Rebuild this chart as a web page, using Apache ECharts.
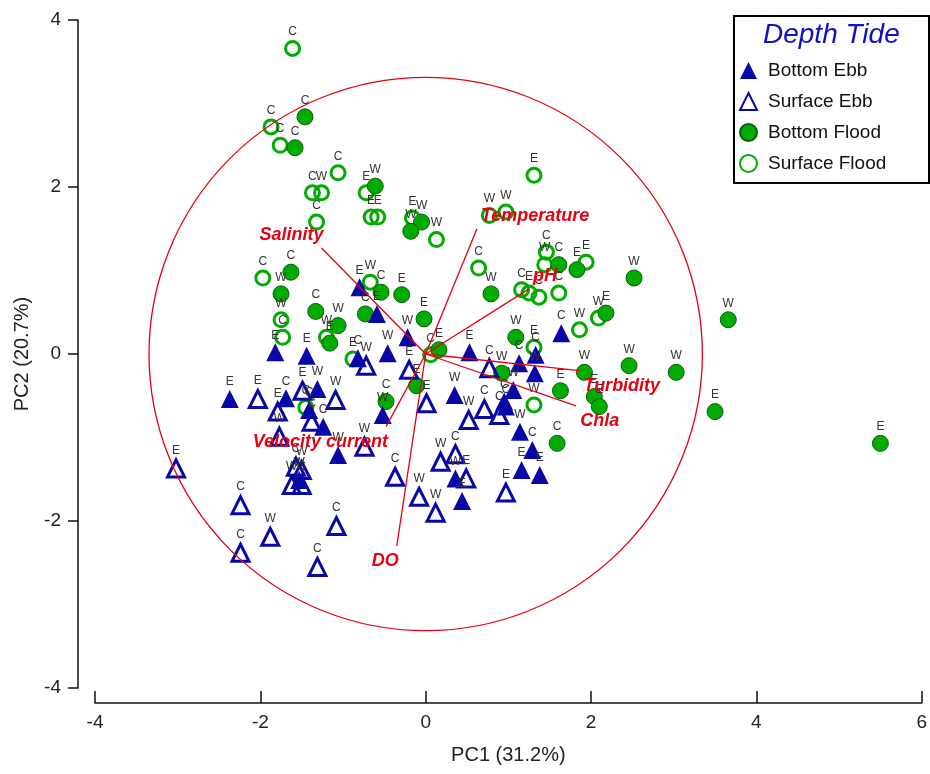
<!DOCTYPE html>
<html>
<head>
<meta charset="UTF-8">
<title>PCA biplot</title>
<script src="https://cdn.jsdelivr.net/npm/echarts@6/dist/echarts.min.js"></script>
</head>
<body style="margin:0;background:#fff;">
<div id="main" style="width:930px;height:774px;"></div>
<script type="text/javascript">
// points: [PC1, PC2, site label]
var bottomEbb = [
  [-0.80, 0.80, 'E'], [-0.59, 0.48, 'E'], [-0.22, 0.20, 'W'], [-0.46, 0.01, 'W'],
  [-1.82, 0.02, 'E'], [-1.44, -0.02, 'E'], [-0.82, -0.05, 'C'], [0.53, 0.02, 'E'],
  [1.64, 0.25, 'C'], [1.33, -0.01, 'C'], [1.13, -0.11, 'C'], [1.32, -0.23, 'W'],
  [0.35, -0.49, 'W'], [1.06, -0.43, 'W'], [0.95, -0.57, 'C'], [0.97, -0.63, 'C'],
  [1.14, -0.93, 'W'], [1.29, -1.15, 'C'], [1.16, -1.39, 'E'], [1.38, -1.45, 'E'],
  [0.36, -1.49, 'W'], [0.44, -1.76, 'E'], [-2.37, -0.54, 'E'], [-1.69, -0.53, 'C'],
  [-1.31, -0.42, 'W'], [-1.41, -0.67, 'C'], [-1.24, -0.87, 'C'], [-1.06, -1.21, 'W'],
  [-0.52, -0.73, 'W'], [-1.53, -1.51, 'W']
];
var surfaceEbb = [
  [-2.03, -0.54, 'E'], [-1.79, -0.69, 'E'], [-1.49, -0.44, 'E'], [-1.09, -0.55, 'W'],
  [-1.38, -0.81, 'C'], [-1.77, -0.99, 'W'], [-0.72, -0.14, 'W'], [-0.20, -0.19, 'E'],
  [0.01, -0.59, 'E'], [0.77, -0.17, 'C'], [0.71, -0.66, 'C'], [0.52, -0.79, 'W'],
  [0.89, -0.73, 'C'], [0.36, -1.20, 'C'], [0.18, -1.29, 'W'], [0.49, -1.49, 'E'],
  [0.97, -1.66, 'E'], [-0.74, -1.11, 'W'], [-0.37, -1.47, 'C'], [-0.08, -1.71, 'W'],
  [0.12, -1.90, 'W'], [-3.02, -1.37, 'E'], [-2.24, -1.81, 'C'], [-2.24, -2.38, 'C'],
  [-1.88, -2.19, 'W'], [-1.08, -2.06, 'C'], [-1.31, -2.55, 'C'], [-1.57, -1.35, 'C'],
  [-1.50, -1.39, 'W'], [-1.62, -1.57, 'W'], [-1.50, -1.57, 'C']
];
var bottomFlood = [
  [-1.46, 2.84, 'C'], [-1.58, 2.47, 'C'], [-0.61, 2.01, 'W'], [-0.05, 1.58, 'W'],
  [-0.18, 1.47, 'W'], [1.61, 1.07, 'C'], [1.83, 1.01, 'E'], [0.79, 0.72, 'W'],
  [2.52, 0.91, 'W'], [2.18, 0.49, 'E'], [1.09, 0.20, 'W'], [3.66, 0.41, 'W'],
  [0.92, -0.23, 'W'], [1.92, -0.22, 'W'], [1.63, -0.44, 'E'], [2.04, -0.51, 'E'],
  [2.10, -0.63, 'E'], [2.46, -0.14, 'W'], [3.03, -0.22, 'W'], [3.50, -0.69, 'E'],
  [5.50, -1.07, 'E'], [1.59, -1.07, 'C'], [-1.63, 0.98, 'C'], [-1.75, 0.72, 'W'],
  [-1.33, 0.51, 'C'], [-1.06, 0.34, 'W'], [-1.16, 0.13, 'E'], [-0.54, 0.74, 'C'],
  [-0.29, 0.71, 'E'], [-0.73, 0.48, 'C'], [-0.02, 0.42, 'E'], [0.16, 0.05, 'E'],
  [-0.11, -0.38, 'E'], [-0.48, -0.57, 'C']
];
var surfaceFlood = [
  [-1.61, 3.66, 'C'], [-1.87, 2.72, 'C'], [-1.76, 2.50, 'C'], [-1.06, 2.17, 'C'],
  [-1.37, 1.93, 'C'], [-1.26, 1.93, 'W'], [-1.32, 1.58, 'C'], [-0.72, 1.93, 'E'],
  [-0.66, 1.64, 'E'], [-0.58, 1.64, 'E'], [-0.16, 1.63, 'E'], [0.13, 1.37, 'W'],
  [1.31, 2.14, 'E'], [0.77, 1.66, 'W'], [0.97, 1.70, 'W'], [0.64, 1.03, 'C'],
  [1.46, 1.22, 'C'], [1.44, 1.07, 'W'], [1.94, 1.10, 'E'], [1.16, 0.77, 'C'],
  [1.25, 0.73, 'E'], [1.37, 0.68, 'C'], [1.61, 0.73, 'C'], [1.86, 0.29, 'W'],
  [2.09, 0.43, 'W'], [1.31, 0.08, 'E'], [1.31, -0.61, 'W'], [-1.97, 0.91, 'C'],
  [-1.75, 0.41, 'W'], [-1.73, 0.20, 'C'], [-1.20, 0.20, 'W'], [-0.67, 0.86, 'W'],
  [-0.88, -0.06, 'E'], [0.06, -0.01, 'C'], [-1.45, -0.64, 'C']
];

// variable vectors (loadings, scaled)
var varNames = ['Salinity', 'Temperature', 'pH', 'Turbidity', 'Chla', 'Velocity current', 'DO'];
var varX = [-1.26, 0.62, 1.25, 1.86, 1.82, -0.48, -0.35];
var varY = [1.27, 1.50, 0.78, -0.20, -0.62, -0.87, -2.30];
var circleRadius = 3.33;

var xTicks = [-4, 6, 2];
var yTicks = [-4, 4, 2];

var blue = '#0808a8';
var green = '#00ac00';
var red = '#e60012';

var myChart = echarts.init(document.getElementById('main'));

function pointLabel() {
  return {
    show: true,
    position: 'top',
    distance: 2,
    formatter: function (p) { return p.value[2]; },
    color: '#333',
    fontSize: 12,
    fontFamily: 'Liberation Sans'
  };
}

var vecData = varX.map(function (x, i) { return [x, varY[i]]; });

option = {
  animation: false,
  backgroundColor: '#fff',
  textStyle: { fontFamily: 'Liberation Sans' },
  grid: { left: 95, right: 2, top: 20, bottom: 86 },
  xAxis: {
    type: 'value',
    min: xTicks[0], max: xTicks[1], interval: xTicks[2],
    offset: 15,
    name: 'PC1 (31.2%)',
    nameLocation: 'middle',
    nameGap: 42,
    nameTextStyle: { fontSize: 20, color: '#222' },
    axisLine: { onZero: false, lineStyle: { color: '#111', width: 1.5 } },
    axisTick: { inside: true, length: 12, lineStyle: { color: '#111', width: 1.5 } },
    axisLabel: { fontSize: 19, color: '#222', margin: 10 },
    splitLine: { show: false }
  },
  yAxis: {
    type: 'value',
    min: yTicks[0], max: yTicks[1], interval: yTicks[2],
    offset: 17,
    name: 'PC2 (20.7%)',
    nameLocation: 'middle',
    nameGap: 46,
    nameTextStyle: { fontSize: 20, color: '#222' },
    axisLine: { show: true, onZero: false, lineStyle: { color: '#111', width: 1.5 } },
    axisTick: { show: true, length: 10, lineStyle: { color: '#111', width: 1.5 } },
    axisLabel: { fontSize: 19, color: '#222', margin: 17 },
    splitLine: { show: false }
  },
  legend: {
    left: 734, top: 56,
    orient: 'vertical',
    itemWidth: 17, itemHeight: 17, itemGap: 12,
    textStyle: { fontSize: 19, color: '#111', padding: [0, 0, 0, 6] },
    data: ['Bottom Ebb', 'Surface Ebb', 'Bottom Flood', 'Surface Flood'],
    selectedMode: false
  },
  graphic: [
    { type: 'rect', left: 733, top: 15, shape: { width: 195, height: 167 },
      style: { fill: '#fff', stroke: '#000', lineWidth: 2 }, z: -1 },
    { type: 'text', left: 763, top: 21,
      style: { text: 'Depth Tide', fill: '#1010c8', font: 'italic 28px "Liberation Sans"' } }
  ],
  series: [
    {
      name: 'Surface Flood', type: 'scatter', symbol: 'circle', symbolSize: 14,
      itemStyle: { color: 'rgba(255,255,255,0)', borderColor: green, borderWidth: 3, opacity: 1 },
      label: pointLabel(), data: surfaceFlood, z: 2
    },
    {
      name: 'Bottom Flood', type: 'scatter', symbol: 'circle', symbolSize: 16,
      itemStyle: { color: green, borderColor: '#0b5d0b', borderWidth: 1, opacity: 1 },
      label: pointLabel(), data: bottomFlood, z: 2
    },
    {
      name: 'Surface Ebb', type: 'scatter', symbol: 'triangle', symbolSize: 17,
      itemStyle: { color: 'rgba(255,255,255,0)', borderColor: blue, borderWidth: 3, opacity: 1 },
      label: pointLabel(), data: surfaceEbb, z: 2
    },
    {
      name: 'Bottom Ebb', type: 'scatter', symbol: 'triangle', symbolSize: 18,
      itemStyle: { color: blue, opacity: 1 },
      label: pointLabel(), data: bottomEbb, z: 2
    },
    {
      name: 'circle', type: 'custom', z: 5, silent: true,
      data: [[0, 0, circleRadius]],
      renderItem: function (params, api) {
        var c = api.coord([api.value(0), api.value(1)]);
        var s = api.size([api.value(2), api.value(2)]);
        return {
          type: 'circle',
          shape: { cx: c[0], cy: c[1], r: (s[0] + s[1]) / 2 },
          style: { fill: 'none', stroke: red, lineWidth: 1.3 }
        };
      }
    },
    {
      name: 'vectors', type: 'custom', z: 6, silent: true,
      data: vecData,
      renderItem: function (params, api) {
        var x = api.value(0), y = api.value(1);
        var p0 = api.coord([0, 0]);
        var p1 = api.coord([x, y]);
        var up = y > 0;
        var left = x < 0;
        return {
          type: 'group',
          children: [
            { type: 'line', shape: { x1: p0[0], y1: p0[1], x2: p1[0], y2: p1[1] },
              style: { stroke: red, lineWidth: 1.3 } },
            { type: 'text', x: p1[0] + (left ? 2 : 4), y: p1[1] + (up ? -4 : 6),
              style: { text: varNames[params.dataIndex], fill: red,
                font: 'italic bold 18px "Liberation Sans"',
                textAlign: left ? 'right' : 'left',
                textVerticalAlign: up ? 'bottom' : 'top' } }
          ]
        };
      }
    }
  ]
};
myChart.setOption(option);
</script>
</body>
</html>
